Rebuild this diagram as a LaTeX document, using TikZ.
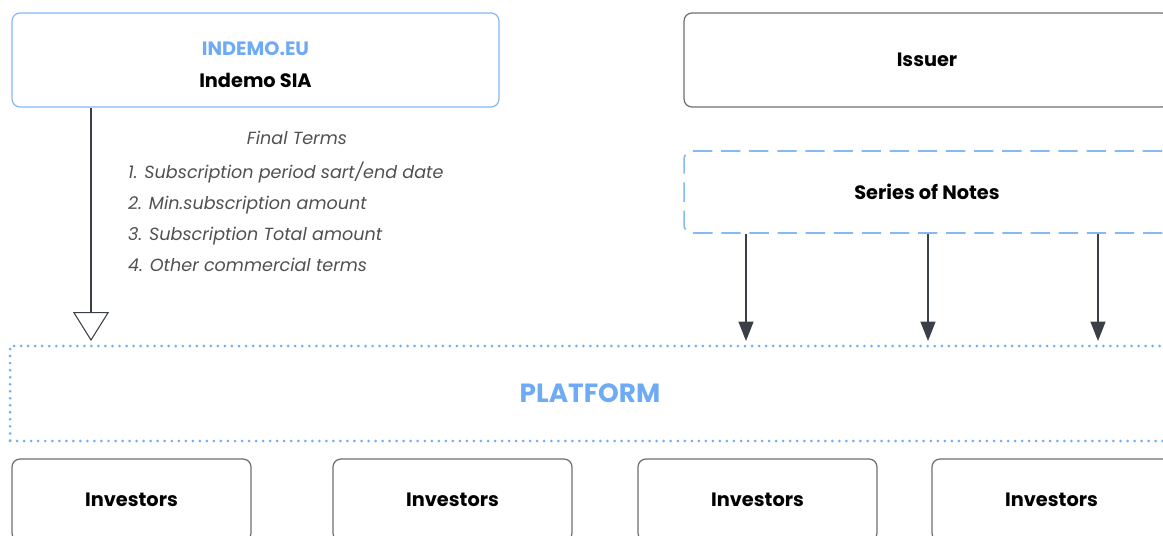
\documentclass[tikz,border=0pt]{standalone}
\usepackage{fontspec}
\setmainfont{Poppins}
\usetikzlibrary{arrows.meta,positioning}
\definecolor{lblue}{HTML}{86B8F2}
\definecolor{dblue}{HTML}{74ADF0}
\definecolor{tblue}{HTML}{6FAAF4}
\definecolor{dgray}{HTML}{3B4048}
\definecolor{bgray}{HTML}{6E6E70}
\definecolor{tgray}{HTML}{505050}
\begin{document}
\begin{tikzpicture}[x=0.02cm,y=-0.02cm,
  box/.style={draw=bgray,line width=0.7pt,rounded corners=4.5pt,minimum width=9.72cm,minimum height=1.88cm,font=\fontsize{11}{13}\selectfont\bfseries},
  invbox/.style={box,minimum width=4.78cm,minimum height=1.64cm},
  conn/.style={draw=dgray,line width=0.75pt,-{Triangle[length=11pt,width=8.5pt]}},
  opentip/.style={draw=dgray,line width=0.6pt,-{Triangle[open,length=16.5pt,width=20.5pt]}},
  terms/.style={text=tgray,font=\fontsize{10}{17.6}\selectfont\itshape}]
\useasboundingbox (0,0) rectangle (1163,535);
% top row
\node[box,draw=lblue,minimum width=9.74cm,align=center] (indemo) at (255.5,60) {\rule{0pt}{13pt}\textcolor{tblue}{INDEMO.EU}\\[5pt]Indemo SIA};
\node[box] (issuer) at (927,60) {Issuer};
\node[box,draw=lblue,line width=0.9pt,dash pattern=on 11pt off 5pt,minimum height=1.64cm] (notes) at (927,192) {Series of Notes};
% platform
\node[draw=dblue,line width=1.7pt,line cap=round,dash pattern=on 0pt off 4pt,minimum width=23.2cm,minimum height=1.9cm,text=tblue,font=\fontsize{15}{17}\selectfont\bfseries] (platform) at (590,393.5) {PLATFORM};
% investors
\foreach \x/\n in {131.5/1,452.5/2,757.5/3,1051.5/4}
  \node[invbox] (inv\n) at (\x,500) {Investors};
% final terms
\node[terms] (termstitle) at (297,138) {Final Terms};
\node[terms,anchor=west,align=left] (termslist) at (122,217) {1. Subscription period sart/end date\\2. Min.subscription amount\\3. Subscription Total amount\\4. Other commercial terms};
% connectors
\draw[opentip,shorten >=2pt] (indemo.south -| 91,0) -- (platform.north -| 91,0);
\foreach \x in {746,928,1098}
  \draw[conn,shorten >=2pt] (notes.south -| \x,0) -- (platform.north -| \x,0);
\end{tikzpicture}
\end{document}
